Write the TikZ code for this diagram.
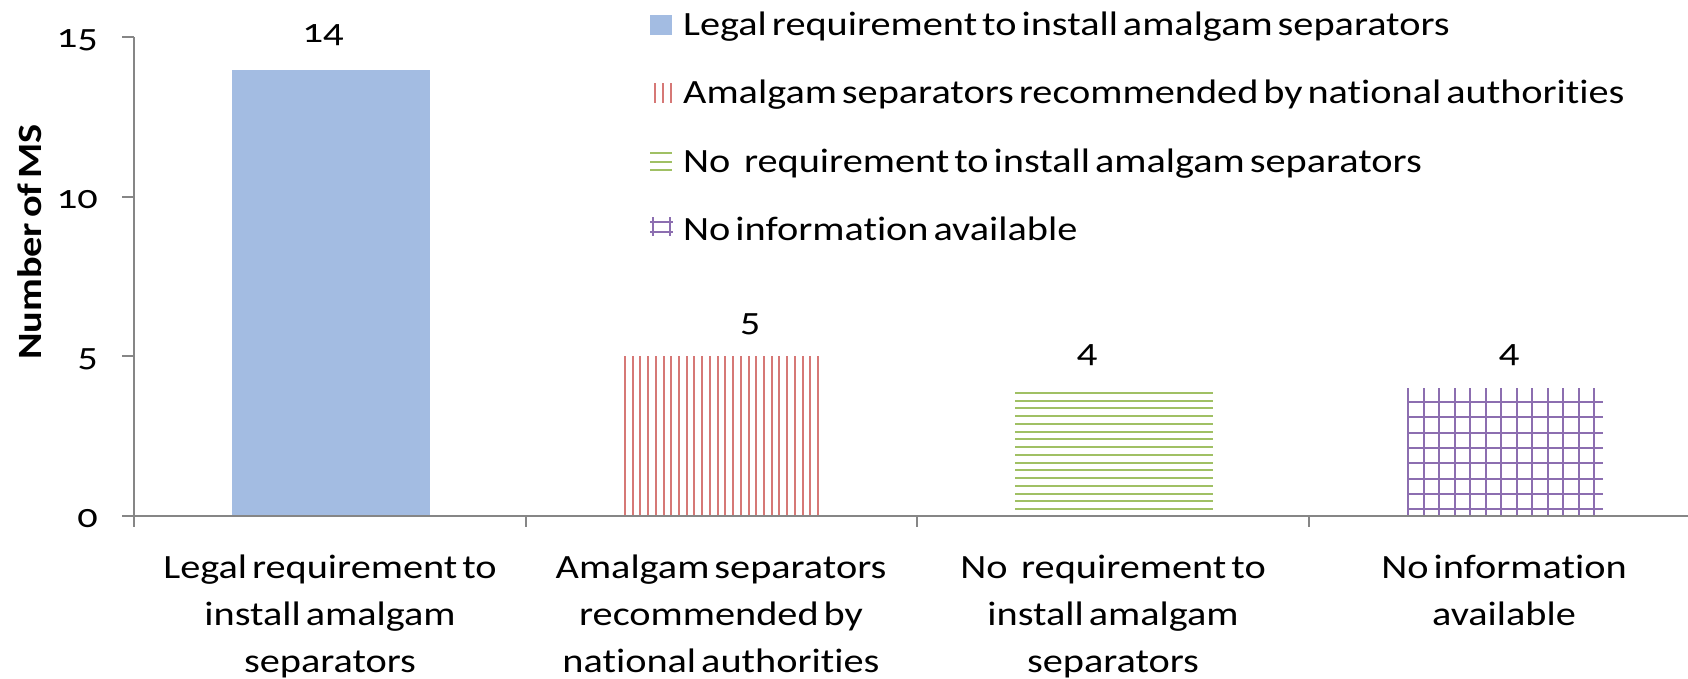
\documentclass[tikz,border=0pt]{standalone}
\usepackage{fontspec}
\setmainfont{Carlito}[Numbers=OldStyle,WordSpace=0.55,FakeStretch=1.185,Ligatures=CommonOff]
\definecolor{axisgray}{RGB}{134,134,134}
\definecolor{bluefill}{RGB}{163,188,226}
\definecolor{redline}{RGB}{214,120,118}
\definecolor{greenline}{RGB}{160,192,100}
\definecolor{purpleline}{RGB}{140,110,176}
\tikzset{
  axisline/.style={draw=axisgray, line width=2pt},
  txt/.style={font=\fontsize{34}{47}\selectfont, inner sep=0pt},
  catlabel/.style={txt, align=center, anchor=north},
  vallabel/.style={txt, anchor=base},
  legtxt/.style={txt, anchor=base west},
  redl/.style={draw=redline, line width=2pt},
  greenl/.style={draw=greenline, line width=2pt},
  purpl/.style={draw=purpleline, line width=2pt},
}
\begin{document}
\begin{tikzpicture}[x=1pt,y=-1pt]
\useasboundingbox (0,0) rectangle (1688,678);
% bars
\fill[bluefill] (232,70) rectangle (430,516);
\foreach \i in {0,...,25} {\draw[redl] ({625+\i*7.72},356) -- ({625+\i*7.72},516);}
\foreach \i in {0,...,15} {\draw[greenl] (1015,{393+\i*7.73}) -- (1213,{393+\i*7.73});}
\foreach \i in {0,...,12} {\draw[purpl] ({1408+\i*15.5},388) -- ({1408+\i*15.5},516);}
\foreach \i in {0,...,7} {\draw[purpl] (1407,{402+\i*15.3}) -- (1603,{402+\i*15.3});}
% axes
\coordinate (o) at (134,516);
\coordinate (ytop) at (134,37);
\coordinate (xend) at (1688,516);
\draw[axisline] (ytop) -- (o) -- (xend);
\foreach \v in {0,5,10,15} {
  \draw[axisline] (122,{516-\v*31.93}) -- (134,{516-\v*31.93});
  \node[txt, anchor=east] (yl\v) at (98,{519-\v*31.93}) {\v};
}
\foreach \x in {134,525.5,917,1308.5} {\draw[axisline] (\x,516) -- (\x,527);}
\node[txt, font=\fontsize{34}{40}\selectfont\bfseries, rotate=90] (ylab) at (30,242) {Number of MS};
% value labels
\node[vallabel] (v1) at (323,42) {14};
\node[vallabel] (v2) at (750,331) {5};
\node[vallabel] (v3) at (1087,362) {4};
\node[vallabel] (v4) at (1509,362) {4};
% category labels
\node[catlabel] (c1) at (330,555) {Legal requirement to\\install amalgam\\separators};
\node[catlabel] (c2) at (721,555) {Amalgam separators\\recommended by\\national authorities};
\node[catlabel] (c3) at (1113,555) {No\hspace{0.4em}requirement to\\install amalgam\\separators};
\node[catlabel] (c4) at (1504,555) {No information\\available};
% legend
\fill[bluefill] (650,15) rectangle (672,35);
\foreach \x in {655,663,671} {\draw[redl] (\x,83) -- (\x,103);}
\foreach \y in {153,162,170} {\draw[greenl] (650,\y) -- (672,\y);}
\draw[purpl] (653,217) -- (653,236) (670,217) -- (670,236) (650,222) -- (673,222) (650,232) -- (673,232);
\node[legtxt] (l1) at (683,35) {Legal requirement to install amalgam separators};
\node[legtxt] (l2) at (683,103) {Amalgam separators recommended by national authorities};
\node[legtxt] (l3) at (683,172) {No\hspace{0.4em}requirement to install amalgam separators};
\node[legtxt] (l4) at (683,240) {No information available};
\end{tikzpicture}
\end{document}
